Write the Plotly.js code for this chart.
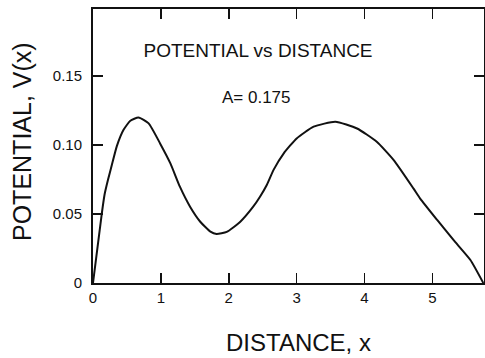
<!DOCTYPE html>
<html>
<head>
<meta charset="utf-8">
<script src="https://cdn.plot.ly/plotly-3.0.1.min.js"></script>
<style>
  html, body { margin: 0; padding: 0; background: #fff; }
  #chart { width: 485px; height: 358px; }
</style>
</head>
<body>
<div id="chart"></div>
<script>
// Potential V(x) sampled along the distance axis
const distance = [0, 0.13, 0.17, 0.22, 0.28, 0.35, 0.45, 0.55, 0.67, 0.82, 0.99, 1.14, 1.28, 1.43, 1.58, 1.73, 1.82, 1.97, 2.17, 2.36, 2.46, 2.56, 2.66, 2.81, 3.0, 3.25, 3.57, 3.89, 4.18, 4.43, 4.72, 4.82, 5.07, 5.31, 5.56, 5.75];
const potential = [0, 0.0505, 0.064, 0.0746, 0.086, 0.099, 0.111, 0.1176, 0.120, 0.1157, 0.101, 0.0867, 0.0698, 0.0553, 0.0444, 0.0372, 0.0355, 0.037, 0.0444, 0.0553, 0.0625, 0.071, 0.082, 0.094, 0.1048, 0.1133, 0.1169, 0.112, 0.1024, 0.0891, 0.0686, 0.0612, 0.0457, 0.0312, 0.0167, 0];

const xTicks = [0, 1, 2, 3, 4, 5];
const xTickText = ['0', '1', '2', '3', '4', '5'];
const yTicks = [0, 0.05, 0.10, 0.15];
const yTickText = ['0', '0.05', '0.10', '0.15'];

const chartTitle = 'POTENTIAL vs DISTANCE';
const paramLabel = 'A= 0.175';
const xTitle = 'DISTANCE, x';
const yTitle = 'POTENTIAL, V(x)';

const FONT = 'Liberation Sans, Arial, sans-serif';
const INK = '#111';

const trace = {
  x: distance,
  y: potential,
  type: 'scatter',
  mode: 'lines',
  line: { color: INK, width: 2, shape: 'spline', smoothing: 0.5 },
  hoverinfo: 'skip'
};

const axisCommon = {
  showgrid: false,
  zeroline: false,
  showline: true,
  linecolor: INK,
  linewidth: 2,
  mirror: 'ticks',
  ticks: 'inside',
  ticklen: 10,
  tickwidth: 1.5,
  tickcolor: INK,
  tickfont: { family: FONT, size: 15, color: INK },
  automargin: false,
  fixedrange: true
};

// pixel helpers for placing text inside the 391 x 274 plot box
const plotL = 93, plotB = 283, plotW = 391, plotH = 274;
const px = v => (v - plotL) / plotW;
const py = v => (plotB - v) / plotH;

const layout = {
  width: 485,
  height: 358,
  margin: { l: 93, r: 1, t: 9, b: 75 },
  paper_bgcolor: '#fff',
  plot_bgcolor: '#fff',
  showlegend: false,
  font: { family: FONT, color: INK },
  title: {
    text: chartTitle,
    font: { family: FONT, size: 19, color: INK },
    x: 258 / 485,
    xanchor: 'center',
    y: 1 - 50 / 358,
    yanchor: 'middle'
  },
  xaxis: Object.assign({}, axisCommon, {
    range: [0, 5.76],
    tickmode: 'array',
    tickvals: xTicks,
    ticktext: xTickText
  }),
  yaxis: Object.assign({}, axisCommon, {
    range: [0, 0.1986],
    tickmode: 'array',
    tickvals: yTicks,
    ticktext: yTickText,
    ticklabelstandoff: 6
  }),
  annotations: [
    {
      text: paramLabel,
      xref: 'paper', yref: 'paper',
      x: px(256), y: py(97),
      xanchor: 'center', yanchor: 'middle',
      showarrow: false,
      font: { family: FONT, size: 17, color: INK }
    },
    {
      text: xTitle,
      xref: 'paper', yref: 'paper',
      x: px(298), y: py(342),
      xanchor: 'center', yanchor: 'middle',
      showarrow: false,
      font: { family: FONT, size: 24, color: INK }
    },
    {
      text: yTitle,
      xref: 'paper', yref: 'paper',
      x: px(22), y: py(142),
      xanchor: 'center', yanchor: 'middle',
      textangle: -90,
      showarrow: false,
      font: { family: FONT, size: 25, color: INK }
    }
  ]
};

Plotly.newPlot('chart', [trace], layout, { staticPlot: true, displayModeBar: false });
</script>
</body>
</html>
